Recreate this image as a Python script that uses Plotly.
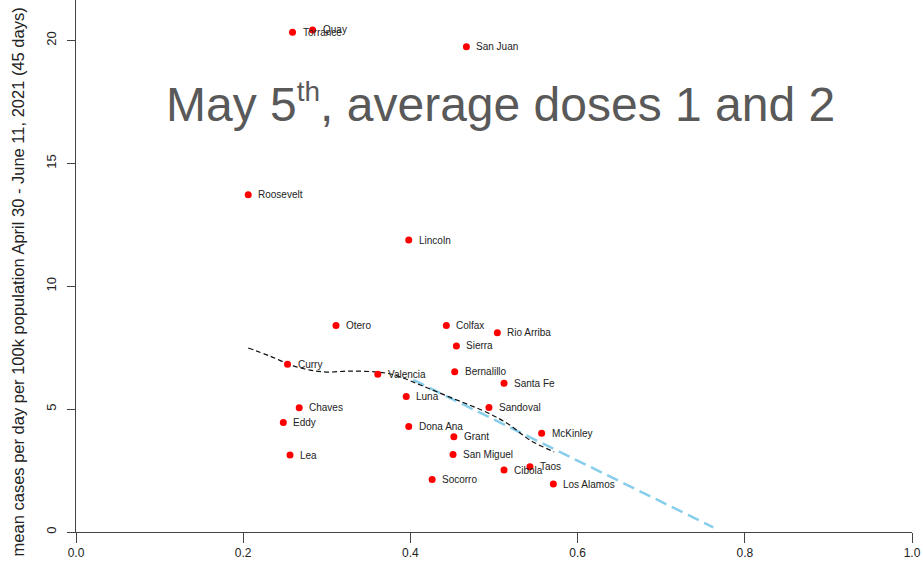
import plotly.graph_objects as go

# County vaccination share (x) vs. mean daily cases per 100k (y)
counties = ["Torrance", "Quay", "San Juan", "Roosevelt", "Lincoln", "Otero", "Colfax",
            "Rio Arriba", "Sierra", "Curry", "Valencia", "Bernalillo", "Santa Fe", "Luna",
            "Chaves", "Sandoval", "Eddy", "Dona Ana", "McKinley", "Grant", "San Miguel",
            "Lea", "Cibola", "Taos", "Socorro", "Los Alamos"]
dose_avg = [0.259, 0.283, 0.467, 0.206, 0.398, 0.311, 0.443,
            0.504, 0.455, 0.253, 0.361, 0.453, 0.512, 0.395,
            0.267, 0.494, 0.248, 0.398, 0.557, 0.452, 0.451,
            0.256, 0.512, 0.543, 0.426, 0.571]
cases = [20.34, 20.43, 19.75, 13.72, 11.88, 8.40, 8.40,
         8.11, 7.57, 6.83, 6.42, 6.52, 6.05, 5.51,
         5.06, 5.07, 4.46, 4.29, 4.02, 3.88, 3.15,
         3.13, 2.52, 2.66, 2.14, 1.95]

# Local smoother (black dashed)
smooth_x = [0.206, 0.232, 0.260, 0.280, 0.300, 0.328, 0.360, 0.376, 0.388,
            0.412, 0.447, 0.493, 0.519, 0.543, 0.572]
smooth_y = [7.49, 7.16, 6.76, 6.59, 6.51, 6.55, 6.51, 6.43, 6.31,
            5.98, 5.49, 4.84, 4.35, 3.74, 3.26]

# Linear fit (light blue dashed)
fit_x = [0.4035, 0.7623]
fit_y = [6.19, 0.19]

title_text = "May 5<sup><span style='font-size:28px'>th</span></sup>, average doses 1 and 2"
y_title = "mean cases per day per 100k population April 30 - June 11, 2021 (45 days)"
x_ticks = [0.0, 0.2, 0.4, 0.6, 0.8, 1.0]
x_tick_text = ["0.0", "0.2", "0.4", "0.6", "0.8", "1.0"]
y_ticks = [0, 5, 10, 15, 20]

FONT = "Liberation Sans, Arial, sans-serif"

fig = go.Figure()

fig.add_trace(go.Scatter(
    x=fit_x, y=fit_y, mode="lines",
    line=dict(color="#87CEEB", width=2.5, dash="12px,6px"),
    hoverinfo="skip", showlegend=False,
))
fig.add_trace(go.Scatter(
    x=smooth_x, y=smooth_y, mode="lines", line_shape="spline",
    line=dict(color="#111111", width=1.2, dash="5px,3px"),
    hoverinfo="skip", showlegend=False,
))
fig.add_trace(go.Scatter(
    x=dose_avg, y=cases, mode="markers",
    marker=dict(color="#FF0000", size=7, line=dict(width=0)),
    text=counties, showlegend=False,
))

for name, xv, yv in zip(counties, dose_avg, cases):
    fig.add_annotation(
        x=xv, y=yv, text=name, showarrow=False,
        xanchor="left", yanchor="middle", xshift=8,
        font=dict(family=FONT, size=10, color="#222222"),
    )

fig.add_annotation(
    xref="paper", yref="paper", x=0.508, y=0.805, text=title_text,
    showarrow=False, xanchor="center", yanchor="middle",
    font=dict(family=FONT, size=48, color="#595959"),
)
fig.add_annotation(
    xref="paper", yref="paper", x=-0.0694, y=0.471, text=y_title,
    showarrow=False, xanchor="center", yanchor="middle", textangle=-90,
    font=dict(family=FONT, size=16.5, color="#222222"),
)

fig.update_layout(
    width=923, height=569,
    margin=dict(l=76, r=11, t=0, b=37),
    paper_bgcolor="white", plot_bgcolor="white",
    font=dict(family=FONT, size=12, color="#222222"),
    xaxis=dict(
        range=[0, 1.0], tickvals=x_ticks, ticktext=x_tick_text,
        showgrid=False, zeroline=False, showline=True, linecolor="#444444", linewidth=1,
        ticks="outside", ticklen=10, tickcolor="#444444",
        tickfont=dict(family=FONT, size=12, color="#222222"),
    ),
    yaxis=dict(
        range=[0, 21.65], tickvals=y_ticks,
        showgrid=False, zeroline=False, showline=True, linecolor="#444444", linewidth=1,
        ticks="outside", ticklen=8, tickcolor="#444444", tickangle=-90,
        ticklabelstandoff=6,
        tickfont=dict(family=FONT, size=13, color="#222222"),
    ),
)

fig.write_html("out.html")
